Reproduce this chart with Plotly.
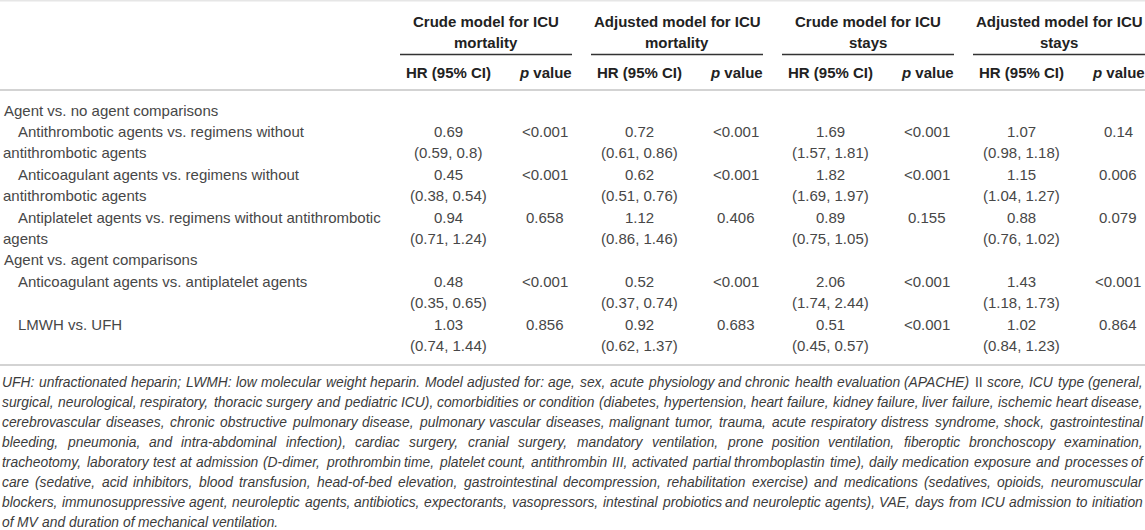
import textwrap
import plotly.graph_objects as go

# ---------------- data ----------------
model_titles = ["Crude model for ICU<br>mortality", "Adjusted model for ICU<br>mortality",
                "Crude model for ICU<br>stays", "Adjusted model for ICU<br>stays"]
sub_headers = ["HR (95% CI)", "<i>p</i> value"]

sections = ["Agent vs. no agent comparisons", "Agent vs. agent comparisons"]
comparisons = [
    "Antithrombotic agents vs. regimens without antithrombotic agents",
    "Anticoagulant agents vs. regimens without antithrombotic agents",
    "Antiplatelet agents vs. regimens without antithrombotic agents",
    "Anticoagulant agents vs. antiplatelet agents",
    "LMWH vs. UFH",
]
comparison_section = [0, 0, 0, 1, 1]

crude_mort_hr = [0.69, 0.45, 0.94, 0.48, 1.03]
crude_mort_lo = [0.59, 0.38, 0.71, 0.35, 0.74]
crude_mort_hi = [0.8, 0.54, 1.24, 0.65, 1.44]
crude_mort_p = ["<0.001", "<0.001", "0.658", "<0.001", "0.856"]

adj_mort_hr = [0.72, 0.62, 1.12, 0.52, 0.92]
adj_mort_lo = [0.61, 0.51, 0.86, 0.37, 0.62]
adj_mort_hi = [0.86, 0.76, 1.46, 0.74, 1.37]
adj_mort_p = ["<0.001", "<0.001", "0.406", "<0.001", "0.683"]

crude_stay_hr = [1.69, 1.82, 0.89, 2.06, 0.51]
crude_stay_lo = [1.57, 1.69, 0.75, 1.74, 0.45]
crude_stay_hi = [1.81, 1.97, 1.05, 2.44, 0.57]
crude_stay_p = ["<0.001", "<0.001", "0.155", "<0.001", "<0.001"]

adj_stay_hr = [1.07, 1.15, 0.88, 1.43, 1.02]
adj_stay_lo = [0.98, 1.04, 0.76, 1.18, 0.84]
adj_stay_hi = [1.18, 1.27, 1.02, 1.73, 1.23]
adj_stay_p = ["0.14", "0.006", "0.079", "<0.001", "0.864"]

footnote_lines = [
    "UFH: unfractionated heparin; LWMH: low molecular weight heparin. Model adjusted for: age, sex, acute physiology and chronic health evaluation (APACHE) II score, ICU type (general,",
    "surgical, neurological, respiratory, thoracic surgery and pediatric ICU), comorbidities or condition (diabetes, hypertension, heart failure, kidney failure, liver failure, ischemic heart disease,",
    "cerebrovascular diseases, chronic obstructive pulmonary disease, pulmonary vascular diseases, malignant tumor, trauma, acute respiratory distress syndrome, shock, gastrointestinal",
    "bleeding, pneumonia, and intra-abdominal infection), cardiac surgery, cranial surgery, mandatory ventilation, prone position ventilation, fiberoptic bronchoscopy examination,",
    "tracheotomy, laboratory test at admission (D-dimer, prothrombin time, platelet count, antithrombin III, activated partial thromboplastin time), daily medication exposure and processes of",
    "care (sedative, acid inhibitors, blood transfusion, head-of-bed elevation, gastrointestinal decompression, rehabilitation exercise) and medications (sedatives, opioids, neuromuscular",
    "blockers, immunosuppressive agent, neuroleptic agents, antibiotics, expectorants, vasopressors, intestinal probiotics and neuroleptic agents), VAE, days from ICU admission to initiation",
    "of MV and duration of mechanical ventilation.",
]

models = [
    (crude_mort_hr, crude_mort_lo, crude_mort_hi, crude_mort_p),
    (adj_mort_hr, adj_mort_lo, adj_mort_hi, adj_mort_p),
    (crude_stay_hr, crude_stay_lo, crude_stay_hi, crude_stay_p),
    (adj_stay_hr, adj_stay_lo, adj_stay_hi, adj_stay_p),
]

# ---------------- layout ----------------
W, H = 1145, 530
FONT = "Liberation Sans, Arial, sans-serif"
HEAD_COL = "#222222"
BODY_COL = "#474747"
group_left = [400, 591, 782, 973]
group_w = 172
hr_off, p_off = 48, 145
fs = 15

# Arial / Liberation Sans advance widths (per 1000 em)
_AW = {" ": 278, "a": 556, "b": 556, "c": 500, "d": 556, "e": 556, "f": 278, "g": 556, "h": 556,
       "i": 222, "j": 222, "k": 500, "l": 222, "m": 833, "n": 556, "o": 556, "p": 556, "q": 556,
       "r": 333, "s": 500, "t": 278, "u": 556, "v": 500, "w": 722, "x": 500, "y": 500, "z": 500,
       "A": 667, "B": 667, "C": 722, "D": 722, "E": 667, "F": 611, "G": 778, "H": 722, "I": 278,
       "J": 500, "K": 667, "L": 556, "M": 833, "N": 722, "O": 778, "P": 667, "Q": 778, "R": 722,
       "S": 667, "T": 611, "U": 722, "V": 667, "W": 944, "X": 667, "Y": 667, "Z": 611,
       ",": 278, ".": 278, ":": 278, ";": 278, "(": 333, ")": 333, "-": 333}


def tw(s, size):
    return sum(_AW.get(c, 556) for c in s) * size / 1000.0


fig = go.Figure()
fig.add_trace(go.Scatter(x=[0, W], y=[0, H], mode="markers",
                         marker=dict(opacity=0), hoverinfo="skip", showlegend=False))
ann = []
shapes = []


def txt(x, y, s, anchor="center", size=fs, color=BODY_COL):
    ann.append(dict(x=x, y=y, xref="x", yref="y", text=s, showarrow=False,
                    xanchor=anchor, yanchor="middle",
                    font=dict(family=FONT, size=size, color=color)))


# top faint rule
shapes.append(dict(type="line", xref="x", yref="y", x0=0, x1=W, y0=0.8, y1=0.8,
                   line=dict(color="#e6e6e6", width=1.5)))
# group headers
for gi, title in enumerate(model_titles):
    l1, l2 = title.split("<br>")
    cx = group_left[gi] + group_w / 2
    txt(cx, 21, "<b>" + l1 + "</b>", color=HEAD_COL)
    txt(cx, 42, "<b>" + l2 + "</b>", color=HEAD_COL)
    shapes.append(dict(type="line", xref="x", yref="y", x0=group_left[gi], x1=group_left[gi] + group_w,
                       y0=54.5, y1=54.5, line=dict(color="#333333", width=1.5)))
    txt(group_left[gi] + hr_off, 72, "<b>" + sub_headers[0] + "</b>", color=HEAD_COL)
    txt(group_left[gi] + p_off, 72, "<b>" + sub_headers[1] + "</b>", color=HEAD_COL)

shapes.append(dict(type="line", xref="x", yref="y", x0=0, x1=W, y0=90, y1=90,
                   line=dict(color="#c4c4c4", width=1.5)))

# body
step = 21.4
y = 110
cur_section = None
for i, comp in enumerate(comparisons):
    if comparison_section[i] != cur_section:
        cur_section = comparison_section[i]
        txt(2, y, sections[cur_section], anchor="left")
        y += step
    lines = textwrap.wrap(comp, 55)
    txt(16, y, lines[0], anchor="left")
    if len(lines) > 1:
        txt(1, y + step, " ".join(lines[1:]), anchor="left")
    for gi, (hr, lo, hi, p) in enumerate(models):
        txt(group_left[gi] + hr_off, y, f"{hr[i]}")
        txt(group_left[gi] + hr_off, y + step, f"({lo[i]}, {hi[i]})")
        txt(group_left[gi] + p_off, y, p[i])
    y += 2 * step

shapes.append(dict(type="line", xref="x", yref="y", x0=0, x1=W, y0=365, y1=365,
                   line=dict(color="#c4c4c4", width=1.5)))

# footnote, justified
fw = 1141.0
fsz = min(14.0, min(fw / tw(l, 1.0) for l in footnote_lines) * 0.995)
for k, line in enumerate(footnote_lines):
    yy = 381.5 + 20.05 * k
    words = line.split(" ")
    if k == len(footnote_lines) - 1:
        gap = tw(" ", fsz)
    else:
        gap = (fw - sum(tw(w_, fsz) for w_ in words)) / (len(words) - 1)
    x = 0.0
    for w_ in words:
        s = w_ if w_ == "II" else "<i>" + w_ + "</i>"
        txt(x, yy, s, anchor="left", size=fsz, color="#3c3c3c")
        x += tw(w_, fsz) + gap

fig.update_layout(
    width=W, height=H, margin=dict(l=0, r=0, t=0, b=0),
    paper_bgcolor="white", plot_bgcolor="white",
    xaxis=dict(range=[0, W], visible=False, fixedrange=True),
    yaxis=dict(range=[H, 0], visible=False, fixedrange=True),
    annotations=ann, shapes=shapes, showlegend=False,
)
fig.write_html("out.html", config={"displayModeBar": False},
               post_script="document.body.style.margin='0';document.body.style.overflow='hidden';")
